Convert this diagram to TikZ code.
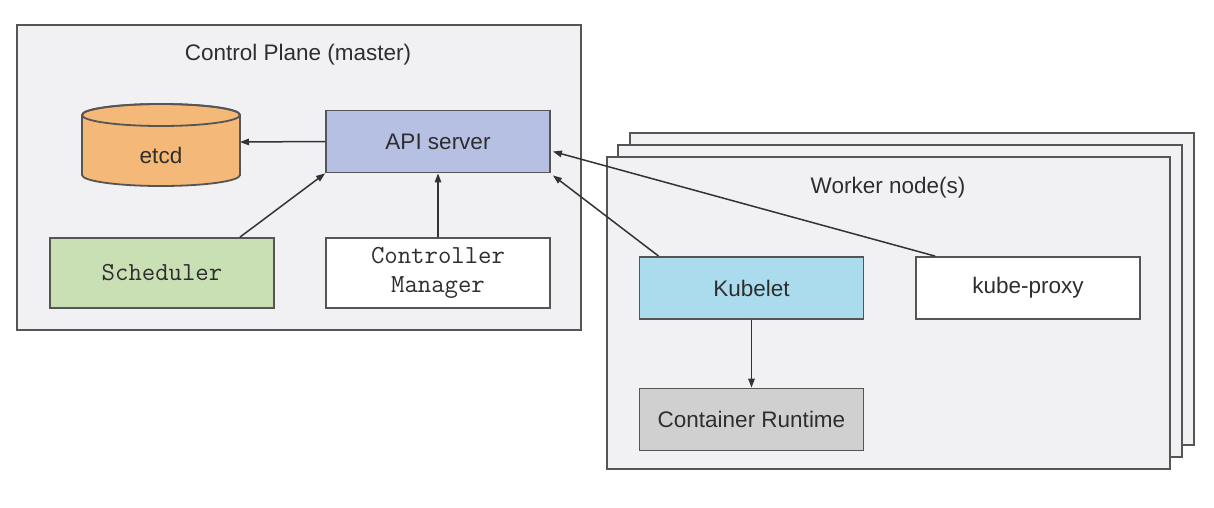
\documentclass[tikz,border=0pt]{standalone}
\usepackage{fontspec}
\setmainfont{Liberation Sans}
\usetikzlibrary{arrows.meta}
\definecolor{panel}{HTML}{F1F1F3}
\definecolor{edge}{HTML}{555555}
\definecolor{etcdc}{HTML}{F4B878}
\definecolor{apic}{HTML}{B6C0E2}
\definecolor{schedc}{HTML}{C9DFB4}
\definecolor{kubec}{HTML}{AADCEE}
\definecolor{crc}{HTML}{D0D0D0}
\definecolor{linec}{HTML}{333333}
\definecolor{textc}{HTML}{2E2E2E}
\begin{document}
\begin{tikzpicture}[x=1pt,y=-1pt,
  panelbox/.style={draw=edge,line width=2pt,fill=panel},
  compbox/.style={draw=edge,line width=1.8pt,minimum width=224pt,minimum height=62pt,inner sep=0pt,font=\fontsize{22.5}{27}\selectfont,text=textc},
  monobox/.style={compbox,font=\fontsize{26}{29}\selectfont\ttfamily,align=center},
  conn/.style={draw=linec,line width=1.5pt,-{Triangle[length=9pt,width=6.5pt]}},
  title/.style={font=\fontsize{22.5}{27}\selectfont,text=textc}]
\useasboundingbox (0,0) rectangle (1214,508);
\fill[white] (0,0) rectangle (1214,508);

% Control plane
\draw[panelbox] (17,25) rectangle (581,330);
\node[title] (cptitle) at (298,55) {Control Plane (master)};

% etcd cylinder
\node[minimum width=158pt,minimum height=80pt,inner sep=0pt] (etcd) at (161,145) {};
\filldraw[fill=etcdc,draw=edge,line width=1.8pt]
  (82,115) -- (82,175) arc[start angle=180,end angle=360,x radius=79pt,y radius=11pt]
  -- (240,115) arc[start angle=0,end angle=180,x radius=79pt,y radius=11pt] -- cycle;
\draw[edge,line width=1.8pt] (82,115) arc[start angle=180,end angle=-180,x radius=79pt,y radius=11pt];
\node[title] (etcdtext) at (161,155) {etcd};

\node[compbox,fill=apic] (api) at (438,141.5) {API server};
\node[monobox,fill=schedc,minimum height=70pt] (sch) at (162,273) {Scheduler};
\node[monobox,fill=white,minimum height=70pt] (cm) at (438,273) {Controller\\Manager};

% Worker stack
\draw[panelbox] (630,133) rectangle (1194,445);
\draw[panelbox] (618,145) rectangle (1182,457);
\draw[panelbox] (607,157) rectangle (1170,469);
\node[title] (wtitle) at (888,188) {Worker node(s)};

\node[compbox,fill=kubec] (kub) at (751.5,288) {Kubelet};
\node[compbox,fill=white] (kp) at (1028,288) {kube-proxy};
\node[compbox,fill=crc] (cr) at (751.5,419.5) {Container Runtime};

% connectors
\draw[conn] (api.west) -- (240,142);
\draw[conn] ([xshift=78pt]sch.north) -- (api.south west);
\draw[conn] (cm.north) -- (api.south);
\draw[conn] ([xshift=20pt]kub.north west) -- ([xshift=2pt,yshift=-2pt]api.south east);
\draw[conn] ([xshift=20pt]kp.north west) -- ([xshift=2pt,yshift=-10pt]api.east);
\draw[conn] (kub.south) -- (cr.north);
\end{tikzpicture}
\end{document}
